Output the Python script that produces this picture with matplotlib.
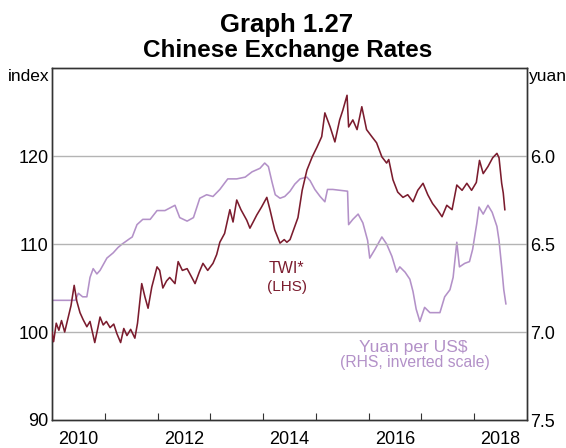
import matplotlib
matplotlib.use('Agg')
from matplotlib import pyplot as plt
from matplotlib.ticker import FixedLocator, NullFormatter, FixedFormatter

plt.rcParams['font.family'] = ['Liberation Sans', 'DejaVu Sans']

# TWI (index, LHS) - decimal years
twi_dates = [2010.00, 2010.03, 2010.08, 2010.13, 2010.18, 2010.24, 2010.30, 2010.36, 2010.42, 2010.47,
             2010.53, 2010.59, 2010.66, 2010.72, 2010.81, 2010.87, 2010.91, 2010.97, 2011.03, 2011.10,
             2011.17, 2011.23, 2011.30, 2011.36, 2011.42, 2011.49, 2011.57, 2011.62, 2011.70, 2011.76,
             2011.82, 2011.89, 2011.99, 2012.04, 2012.10, 2012.17, 2012.23, 2012.33, 2012.39, 2012.47,
             2012.56, 2012.64, 2012.71, 2012.79, 2012.86, 2012.95, 2013.05, 2013.12, 2013.18, 2013.27,
             2013.37, 2013.43, 2013.50, 2013.58, 2013.69, 2013.75, 2013.82, 2013.88, 2013.97, 2014.07,
             2014.13, 2014.22, 2014.32, 2014.40, 2014.45, 2014.51, 2014.60, 2014.66, 2014.74, 2014.83,
             2014.93, 2015.02, 2015.11, 2015.17, 2015.27, 2015.36, 2015.45, 2015.51, 2015.59, 2015.62,
             2015.70, 2015.78, 2015.87, 2015.96, 2016.06, 2016.15, 2016.25, 2016.34, 2016.38, 2016.46,
             2016.55, 2016.65, 2016.74, 2016.84, 2016.93, 2017.03, 2017.12, 2017.21, 2017.30, 2017.39,
             2017.48, 2017.58, 2017.67, 2017.77, 2017.86, 2017.95, 2018.04, 2018.10, 2018.17, 2018.26,
             2018.35, 2018.43, 2018.47, 2018.52, 2018.55, 2018.58]
twi_values = [100.0, 98.9, 101.0, 100.2, 101.3, 100.0, 101.5, 103.0, 105.3, 103.5,
              102.2, 101.4, 100.6, 101.2, 98.8, 100.5, 101.7, 100.8, 101.2, 100.5,
              100.9, 99.8, 98.8, 100.4, 99.6, 100.3, 99.3, 101.0, 105.5, 104.0,
              102.7, 105.1, 107.4, 107.0, 105.0, 105.8, 106.2, 105.5, 108.0, 107.0,
              107.2, 106.3, 105.5, 106.8, 107.8, 107.0, 107.8, 108.8, 110.2, 111.2,
              113.9, 112.5, 115.0, 113.9, 112.7, 111.8, 112.6, 113.3, 114.2, 115.3,
              113.9, 111.6, 110.1, 110.5, 110.2, 110.5, 112.0, 113.0, 116.1, 118.4,
              119.9, 121.0, 122.2, 124.9, 123.3, 121.6, 124.1, 125.2, 126.9, 123.3,
              124.1, 123.0, 125.6, 123.0, 122.2, 121.5, 119.9, 119.2, 119.6, 117.3,
              115.9, 115.3, 115.6, 114.8, 116.1, 116.9, 115.6, 114.6, 113.9, 113.1,
              114.4, 113.9, 116.7, 116.1, 116.9, 116.1, 117.0, 119.5, 118.0, 118.8,
              119.8, 120.3, 119.8, 116.9, 115.8, 113.9]

# Yuan per US$ (RHS, inverted)
cny_dates = [2010.00, 2010.44, 2010.50, 2010.58, 2010.66, 2010.72, 2010.78, 2010.85, 2010.91, 2011.04,
             2011.16, 2011.25, 2011.33, 2011.47, 2011.52, 2011.61, 2011.72, 2011.86, 2011.99, 2012.14,
             2012.33, 2012.42, 2012.56, 2012.68, 2012.80, 2012.93, 2013.05, 2013.18, 2013.33, 2013.50,
             2013.66, 2013.79, 2013.94, 2014.03, 2014.10, 2014.17, 2014.23, 2014.32, 2014.41, 2014.51,
             2014.60, 2014.70, 2014.83, 2014.89, 2014.98, 2015.08, 2015.17, 2015.22, 2015.32, 2015.60,
             2015.62, 2015.70, 2015.80, 2015.89, 2015.98, 2016.02, 2016.12, 2016.25, 2016.34, 2016.44,
             2016.53, 2016.59, 2016.69, 2016.78, 2016.84, 2016.90, 2016.97, 2017.06, 2017.16, 2017.26,
             2017.35, 2017.44, 2017.54, 2017.60, 2017.67, 2017.72, 2017.82, 2017.91, 2017.97, 2018.05,
             2018.09, 2018.17, 2018.26, 2018.34, 2018.43, 2018.47, 2018.52, 2018.56, 2018.60]
cny_values = [6.82, 6.82, 6.78, 6.80, 6.80, 6.69, 6.64, 6.67, 6.65, 6.58,
              6.55, 6.52, 6.50, 6.47, 6.46, 6.39, 6.36, 6.36, 6.31, 6.31,
              6.28, 6.35, 6.37, 6.35, 6.24, 6.22, 6.23, 6.19, 6.13, 6.13,
              6.12, 6.09, 6.07, 6.04, 6.06, 6.15, 6.22, 6.24, 6.23, 6.20,
              6.16, 6.13, 6.12, 6.14, 6.19, 6.23, 6.26, 6.19, 6.19, 6.20,
              6.39, 6.36, 6.33, 6.38, 6.48, 6.58, 6.53, 6.46, 6.50, 6.57,
              6.66, 6.63, 6.66, 6.70, 6.77, 6.87, 6.94, 6.86, 6.89, 6.89,
              6.89, 6.80, 6.76, 6.69, 6.49, 6.63, 6.61, 6.60, 6.53, 6.38,
              6.29, 6.33, 6.28, 6.32, 6.40, 6.48, 6.63, 6.76, 6.84]

left_ticks = [90, 100, 110, 120]
right_ticks = [6.0, 6.5, 7.0, 7.5]
year_labels = ['2010', '', '2012', '', '2014', '', '2016', '', '2018']

twi_color = '#7B1C2E'
cny_color = '#B391C8'

fig = plt.figure(figsize=(5.66, 4.48), dpi=100)
ax = fig.add_axes([0.0919, 0.0625, 0.8392, 0.7857])
ax2 = ax.twinx()

ax.set_xlim(2010, 2019)
ax.set_ylim(90, 130)
ax2.set_ylim(7.5, 5.5)

for y in [100, 110, 120]:
    ax.axhline(y, color='#B4B4B4', lw=1, zorder=0)

ax2.plot(cny_dates, cny_values, color=cny_color, lw=1.15)
ax.plot(twi_dates, twi_values, color=twi_color, lw=1.15, zorder=3)
ax.set_zorder(ax2.get_zorder() + 1)
ax.patch.set_visible(False)

# x axis: ticks at year starts, labels centred mid-year
ax.xaxis.set_major_locator(FixedLocator(range(2011, 2019)))
ax.xaxis.set_major_formatter(NullFormatter())
ax.xaxis.set_minor_locator(FixedLocator([y + 0.5 for y in range(2010, 2019)]))
ax.xaxis.set_minor_formatter(FixedFormatter(year_labels))
ax.tick_params(axis='x', which='major', direction='in', length=5, width=0.8, color='#333333')
ax.tick_params(axis='x', which='minor', length=0, pad=8, labelsize=13)

ax.set_yticks(left_ticks)
ax.tick_params(axis='y', length=0, pad=2.5, labelsize=13)
ax2.set_yticks(right_ticks)
ax2.set_yticklabels(['%.1f' % v for v in right_ticks])
ax2.tick_params(axis='y', length=0, pad=2.5, labelsize=13)

for a in (ax, ax2):
    for s in a.spines.values():
        s.set_color('#333333')
        s.set_linewidth(1)

ax.text(-0.005, 0.962, 'index', transform=ax.transAxes, ha='right', va='baseline', fontsize=12.5)
ax.text(1.004, 0.962, 'yuan', transform=ax.transAxes, ha='left', va='baseline', fontsize=12.5)

ax.text(2014.45, 107.2, 'TWI*', color=twi_color, ha='center', va='center', fontsize=11.5)
ax.text(2014.46, 105.1, '(LHS)', color=twi_color, ha='center', va='center', fontsize=11)
ax.text(2016.84, 98.2, 'Yuan per US$', color=cny_color, ha='center', va='center', fontsize=12.5)
ax.text(2016.88, 96.5, '(RHS, inverted scale)', color=cny_color, ha='center', va='center', fontsize=11.3)

fig.text(0.506, 0.929, 'Graph 1.27', ha='center', va='baseline', fontsize=18.5, fontweight='bold')
fig.text(0.508, 0.8735, 'Chinese Exchange Rates', ha='center', va='baseline', fontsize=17.5, fontweight='bold')

plt.savefig('out.png', dpi=100)
